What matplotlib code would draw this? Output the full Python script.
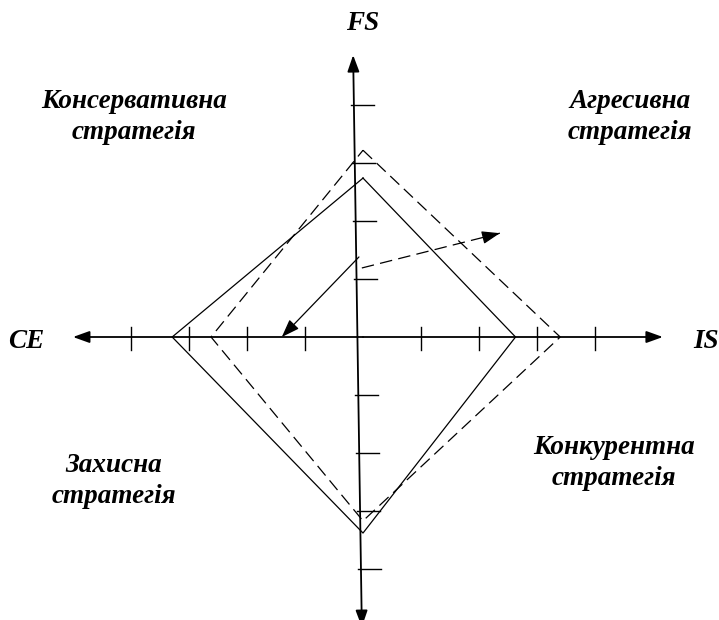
import matplotlib
matplotlib.use("Agg")
import matplotlib.pyplot as plt

# SPACE matrix: axis labels, ticks, profiles, vectors
axis_labels = {"FS": (0.0, 5.40), "CE": (-5.8, -0.07), "IS": (5.92, -0.07)}
ticks = [-4, -3, -2, -1, 1, 2, 3, 4]

# profile vertices: FS, IS, ES, CE
solid_profile = {"FS": 2.74, "IS": 2.63, "ES": -3.38, "CE": -3.29}
dashed_profile = {"FS": 3.22, "IS": 3.40, "ES": -3.17, "CE": -2.62}

solid_vector = [(-0.07, 1.38), (-1.40, 0.0)]
dashed_vector = [(-0.02, 1.19), (2.36, 1.79)]

quadrants = [
    ("Консервативна\nстратегія", -3.95, 3.79),
    ("Агресивна\nстратегія", 4.6, 3.79),
    ("Захисна\nстратегія", -4.3, -2.48),
    ("Конкурентна\nстратегія", 4.33, -2.17),
]

# pixel layout: origin at (363, 337), 58 px per unit
W, H, OX, OY, U = 719, 620, 363, 337, 58.0

plt.rcParams["lines.scale_dashes"] = False
fig = plt.figure(figsize=(W / 100, H / 100), dpi=100)
ax = fig.add_axes([0, 0, 1, 1])
ax.set_xlim(-OX / U, (W - OX) / U)
ax.set_ylim(-(H - OY) / U, OY / U)
ax.axis("off")

font = dict(family="Liberation Serif", style="italic", weight="bold", size=19.5)
head = "-|>,head_length=1.0,head_width=0.36"

def arrow(tip, start, lw=1.3, scale=10):
    ax.annotate("", xy=tip, xytext=start, annotation_clip=False,
                arrowprops=dict(arrowstyle=head, mutation_scale=scale, lw=lw,
                                color="black", shrinkA=0, shrinkB=0))

# horizontal axis with arrows both ways
for end in (-5.0, 5.17):
    arrow((end, 0), (0, 0))
for t in ticks:
    ax.plot([t, t], [-13 / U, 10 / U], color="black", lw=1.0)

# vertical axis (slightly slanted like the scan)
top, bottom = (-0.17, 4.86), (-0.02, -5.0)
def axis_x(y):
    return top[0] + (top[1] - y) / (top[1] - bottom[1]) * (bottom[0] - top[0])
for end in (top, bottom):
    arrow(end, (axis_x(0), 0))
for t in ticks:
    x0 = axis_x(t)
    ax.plot([x0 - 3 / U, x0 + 20 / U], [t, t], color="black", lw=1.0)

# profiles
def diamond(p):
    xs = [0, p["IS"], 0, p["CE"], 0]
    ys = [p["FS"], 0, p["ES"], 0, p["FS"]]
    return xs, ys

xs, ys = diamond(solid_profile)
ax.plot(xs, ys, color="black", lw=0.9)
xs, ys = diamond(dashed_profile)
ax.plot(xs, ys, color="black", lw=0.9, ls="--", dashes=(9, 4.5))

# vectors
(sx, sy), (tx, ty) = solid_vector
arrow((tx, ty), (sx, sy), lw=0.9, scale=11)
(sx, sy), (tx, ty) = dashed_vector
ax.plot([sx, tx], [sy, ty], color="black", lw=0.9, ls="--", dashes=(9, 4.5))
k = 0.08
arrow((tx, ty), (tx - k * (tx - sx), ty - k * (ty - sy)), lw=0.9, scale=11)

# texts
for name, (x, y) in axis_labels.items():
    ax.text(x, y, name, ha="center", va="center", **font)
for label, x, y in quadrants:
    ax.text(x, y, label, ha="center", va="center", multialignment="center",
            linespacing=1.3, **font)

fig.savefig("out.png", dpi=100)
